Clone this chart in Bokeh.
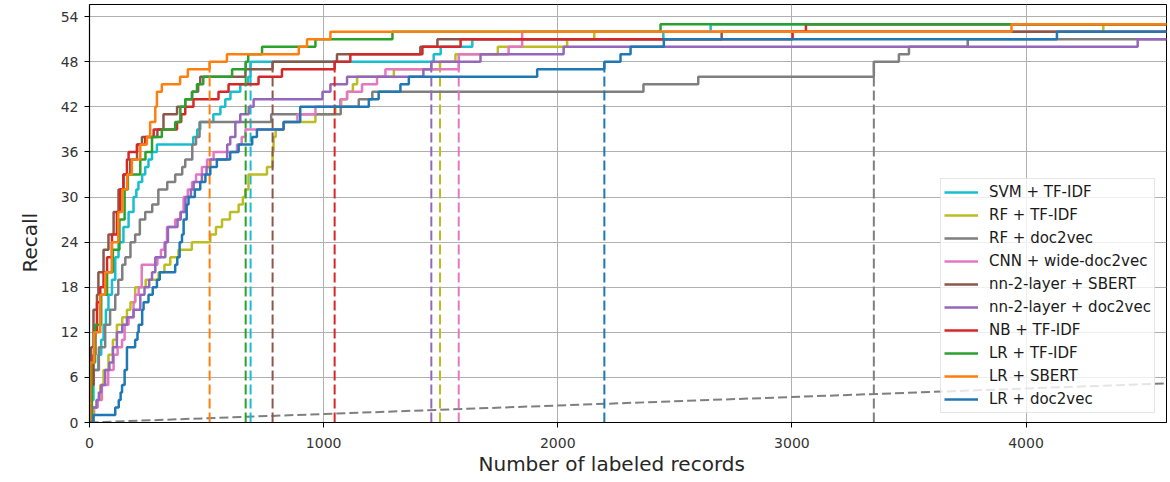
from bokeh.plotting import figure
from bokeh.models import Range1d, Title, FixedTicker
from bokeh.embed import file_html
from bokeh.resources import INLINE

# ---------------- data ----------------
model_names = ["SVM + TF-IDF", "RF + TF-IDF", "RF + doc2vec", "CNN + wide-doc2vec",
               "nn-2-layer + SBERT", "nn-2-layer + doc2vec", "NB + TF-IDF",
               "LR + TF-IDF", "LR + SBERT", "LR + doc2vec"]
model_colors = ["#17becf", "#bcbd22", "#7f7f7f", "#e377c2", "#8c564b",
                "#9467bd", "#d62728", "#2ca02c", "#ff7f0e", "#1f77b4"]

svm_tfidf_x = [0, 5, 17, 38, 50, 60, 70, 81, 96, 110, 124, 145, 167, 188, 200, 209, 225, 238, 252, 267,
               288, 443, 460, 473, 529, 559, 580, 602, 644, 678, 688, 1470, 1500, 1635, 2451, 2653]
svm_tfidf_y = [0, 3, 7, 9, 11, 13, 15, 17, 19, 22, 24, 26, 28, 30, 31, 32, 33, 34, 35, 36,
               37, 38, 39, 40, 41, 42, 43, 44, 45, 46, 48, 49, 50, 51, 52, 53]

rf_tfidf_x = [0, 10, 20, 32, 46, 60, 81, 100, 117, 140, 160, 175, 195, 240, 295, 320, 345, 380, 437, 516,
              540, 566, 600, 637, 655, 665, 679, 758, 782, 786, 795, 829, 965, 1050, 1075, 1100, 1125, 1143,
              1300, 1497, 1563, 1744, 2040, 2156, 4330]
rf_tfidf_y = [0, 1, 2, 3, 5, 7, 9, 11, 13, 14, 15, 16, 18, 19, 20, 21, 22, 23, 24, 25,
              26, 27, 28, 29, 30, 31, 33, 34, 36, 38, 39, 40, 41, 42, 43, 44, 45, 46,
              47, 48, 49, 50, 51, 52, 53]

rf_doc2vec_x = [0, 3, 10, 16, 40, 67, 88, 110, 123, 140, 153, 175, 195, 215, 238, 268, 294, 332, 366, 396,
                409, 439, 455, 470, 776, 1073, 1150, 1208, 2366, 2600, 3350, 3457, 3500, 3751]
rf_doc2vec_y = [0, 1, 5, 7, 10, 13, 15, 17, 19, 21, 22, 24, 25, 27, 28, 29, 31, 32, 33, 34,
                35, 37, 38, 40, 41, 42, 43, 44, 45, 46, 48, 49, 50, 51]

cnn_x = [0, 17, 35, 53, 80, 103, 120, 139, 150, 167, 188, 195, 210, 223, 290, 305, 320, 331, 366, 388,
         402, 420, 438, 455, 480, 502, 530, 630, 650, 666, 830, 888, 965, 1071, 1100, 1164, 1228, 1264,
         1577, 1790, 1848]
cnn_y = [0, 2, 3, 5, 7, 9, 10, 11, 13, 14, 16, 17, 18, 21, 22, 23, 24, 26, 27, 28,
         30, 31, 32, 33, 34, 35, 36, 37, 38, 39, 40, 41, 42, 43, 44, 45, 46, 47,
         49, 50, 52]

nn_sbert_x = [0, 3, 7, 17, 32, 38, 60, 81, 103, 124, 145, 174, 203, 224, 290, 316, 374, 409, 438, 464,
              473, 666, 782, 1057, 1413, 1486, 2700]
nn_sbert_y = [0, 5, 10, 15, 17, 20, 23, 25, 28, 31, 33, 35, 37, 38, 39, 41, 42, 43, 44, 45,
              46, 47, 48, 49, 50, 51, 52]

nn_doc2vec_x = [0, 10, 30, 40, 50, 67, 85, 100, 117, 140, 160, 188, 217, 235, 255, 267, 281, 324, 335, 376,
                390, 410, 433, 445, 480, 500, 516, 588, 601, 623, 644, 680, 701, 995, 1029, 1100, 1426, 1460,
                1670, 2025, 4477]
nn_doc2vec_y = [0, 2, 3, 4, 5, 7, 8, 10, 12, 13, 14, 15, 17, 18, 19, 20, 22, 24, 26, 27,
                28, 30, 31, 32, 33, 34, 35, 37, 38, 40, 41, 42, 43, 44, 45, 46, 47, 48,
                49, 50, 51]

nb_tfidf_x = [0, 2, 3, 17, 25, 32, 46, 60, 75, 96, 117, 131, 145, 160, 167, 203, 238, 274, 374, 392,
              409, 444, 551, 594, 722, 822, 1047, 1114, 1422, 1585, 3003, 3060]
nb_tfidf_y = [0, 3, 5, 9, 12, 16, 18, 20, 22, 25, 28, 31, 33, 35, 36, 37, 38, 39, 40, 41,
              42, 43, 44, 45, 46, 47, 48, 49, 50, 51, 52, 53]

lr_tfidf_x = [0, 10, 24, 50, 75, 100, 128, 150, 164, 217, 239, 267, 309, 366, 388, 409, 438, 459, 486, 609,
              667, 678, 737, 965, 1294, 2439]
lr_tfidf_y = [0, 8, 13, 17, 20, 23, 27, 31, 33, 35, 36, 38, 39, 40, 42, 43, 44, 45, 46, 47,
              48, 49, 50, 51, 52, 53]

lr_sbert_x = [0, 3, 20, 46, 67, 95, 123, 140, 161, 181, 217, 245, 259, 281, 288, 309, 387, 420, 513, 587,
              894, 929, 1029, 3938]
lr_sbert_y = [0, 8, 12, 17, 20, 24, 28, 31, 33, 35, 37, 38, 40, 42, 44, 45, 46, 47, 48, 49,
              50, 51, 52, 53]

lr_doc2vec_x = [0, 17, 110, 125, 133, 139, 150, 160, 195, 205, 210, 225, 231, 252, 270, 288, 300, 366, 375, 385,
                395, 402, 415, 423, 450, 473, 495, 516, 544, 601, 637, 695, 715, 829, 900, 1193, 1235, 1328,
                1364, 1912, 2199, 2268, 2311, 2453, 4132]
lr_doc2vec_y = [0, 1, 2, 3, 4, 5, 7, 10, 11, 12, 13, 15, 16, 17, 18, 19, 20, 21, 22, 24,
                25, 27, 29, 30, 31, 32, 33, 34, 35, 36, 37, 38, 39, 40, 42, 43, 44, 45,
                46, 47, 48, 49, 50, 51, 52]

# x at which each model reached the recall threshold (dashed verticals)
stop_x = [688, 1497, 3350, 1577, 782, 1460, 1047, 667, 513, 2199]
stop_recall = 48

random_x = [0, 4600]
random_y = [0, 5.2]

x_max = 4600
y_max = 55.62
x_ticks = [0, 1000, 2000, 3000, 4000]
y_ticks = [0, 6, 12, 18, 24, 30, 36, 42, 48, 54]

series_x = [svm_tfidf_x, rf_tfidf_x, rf_doc2vec_x, cnn_x, nn_sbert_x,
            nn_doc2vec_x, nb_tfidf_x, lr_tfidf_x, lr_sbert_x, lr_doc2vec_x]
series_y = [svm_tfidf_y, rf_tfidf_y, rf_doc2vec_y, cnn_y, nn_sbert_y,
            nn_doc2vec_y, nb_tfidf_y, lr_tfidf_y, lr_sbert_y, lr_doc2vec_y]

# ---------------- figure ----------------
FONT = "DejaVu Sans"
p = figure(width=1168, height=482, x_range=Range1d(0, x_max), y_range=Range1d(0, y_max),
           output_backend="svg", toolbar_location=None,
           min_border_left=89, min_border_right=2, min_border_top=4, min_border_bottom=60)

p.background_fill_color = "white"
p.outline_line_color = "black"
p.outline_line_width = 1
p.grid.grid_line_color = "#b0b0b0"
p.grid.grid_line_width = 1

p.xaxis.ticker = FixedTicker(ticks=x_ticks)
p.yaxis.ticker = FixedTicker(ticks=y_ticks)
for ax in (p.xaxis, p.yaxis):
    ax.axis_line_color = "black"
    ax.axis_line_width = 1.2
    ax.major_tick_line_color = "black"
    ax.major_tick_out = 5
    ax.major_tick_in = 0
    ax.minor_tick_line_color = None
    ax.major_label_text_font = FONT
    ax.major_label_text_font_size = "14px"
    ax.major_label_text_color = "#333333"
p.xaxis.major_label_standoff = 10
p.yaxis.major_label_standoff = 6

# random baseline
p.line(random_x, random_y, line_color="#7f7f7f", line_width=2, line_dash="9 4")

for name, color, xs, ys, sx in zip(model_names, model_colors, series_x, series_y, stop_x):
    xx = list(xs) + [x_max]
    yy = list(ys) + [ys[-1]]
    p.step(xx, yy, mode="after", line_color=color, line_width=2.5, legend_label=name)
    p.segment(x0=[sx], y0=[0], x1=[sx], y1=[stop_recall], line_color=color,
              line_width=2, line_dash="10 4")

leg = p.legend[0]
leg.location = (851, 9)
leg.label_text_font = FONT
leg.label_text_font_size = "15px"
leg.label_text_color = "#1a1a1a"
leg.glyph_width = 34
leg.glyph_height = 20
leg.label_height = 20
leg.spacing = 3
leg.padding = 3
leg.margin = 0
leg.label_standoff = 11
leg.border_line_color = "#cccccc"
leg.border_line_width = 1
leg.background_fill_alpha = 0.8

ytitle = Title(text="Recall", align="left", offset=150, vertical_align="bottom",
               text_font=FONT, text_font_size="20px", text_font_style="normal",
               text_color="#262626")
xtitle = Title(text="Number of labeled records", align="left", offset=389, vertical_align="top",
               text_font=FONT, text_font_size="20px", text_font_style="normal",
               text_color="#262626")
for t, s in ((ytitle, 31), (xtitle, 2)):
    try:
        t.standoff = s
    except Exception:
        pass
p.add_layout(ytitle, "left")
p.add_layout(xtitle, "below")

open("out.html", "w").write(file_html(p, INLINE))
